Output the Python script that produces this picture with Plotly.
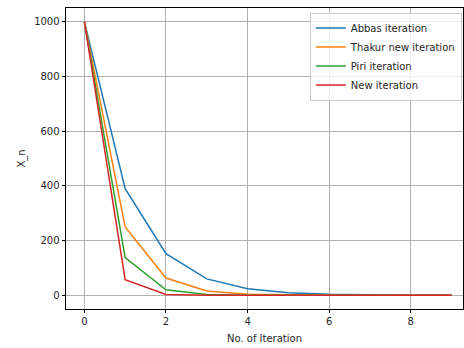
import plotly.graph_objects as go

iterations = [0, 1, 2, 3, 4, 5, 6, 7, 8, 9]
abbas = [1000, 390, 152, 60, 24, 9.5, 3.7, 1.4, 0.6, 0.2]
thakur = [1000, 250, 63, 16, 4, 1.0, 0.25, 0.06, 0.02, 0.0]
piri = [1000, 138, 20, 2.8, 0.4, 0.05, 0.0, 0.0, 0.0, 0.0]
new_iter = [1000, 57, 3.2, 0.2, 0.0, 0.0, 0.0, 0.0, 0.0, 0.0]

series = [
    ("Abbas iteration", abbas, "#1f77b4"),
    ("Thakur new iteration", thakur, "#ff7f0e"),
    ("Piri iteration", piri, "#2ca02c"),
    ("New iteration", new_iter, "#d62728"),
]

fig = go.Figure()
for name, vals, color in series:
    fig.add_trace(go.Scatter(x=iterations, y=vals, mode="lines", name=name,
                             line=dict(color=color, width=1.5)))

font = dict(family="DejaVu Sans", size=10, color="#262626")
fig.update_layout(
    width=464, height=348,
    margin=dict(l=66, r=1, t=8, b=39, autoexpand=False),
    paper_bgcolor="white", plot_bgcolor="white",
    font=font,
    showlegend=True,
    legend=dict(x=0.997, y=0.985, xanchor="right", yanchor="top",
                bgcolor="rgba(255,255,255,0.8)", bordercolor="#cccccc", borderwidth=1,
                font=dict(family="DejaVu Sans", size=10, color="#262626"),
                tracegroupgap=0, itemwidth=30),
)
fig.update_xaxes(
    range=[-0.45, 9.28], tickmode="linear", tick0=0, dtick=2, automargin=False,
    showgrid=True, gridcolor="#b0b0b0", gridwidth=0.8, zeroline=False,
    showline=True, linecolor="black", linewidth=0.8, mirror=True,
    ticks="outside", ticklen=3.5, tickcolor="black", tickwidth=0.8,
    title=dict(text="No. of Iteration", font=font, standoff=8),
)
fig.update_yaxes(
    range=[-50, 1050], tickmode="linear", tick0=0, dtick=200, automargin=False,
    showgrid=True, gridcolor="#b0b0b0", gridwidth=0.8, zeroline=False,
    showline=True, linecolor="black", linewidth=0.8, mirror=True,
    ticks="outside", ticklen=3.5, tickcolor="black", tickwidth=0.8,
    title=dict(text="X_n", font=font, standoff=6),
)
fig.write_html("out.html", config={"displayModeBar": False},
               post_script="document.body.style.margin='0';document.body.style.overflow='hidden';")
